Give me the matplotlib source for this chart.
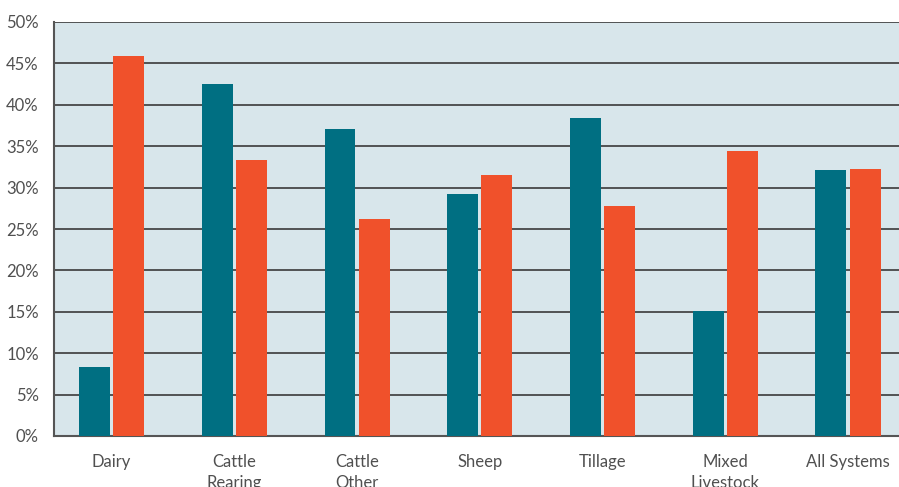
import matplotlib
matplotlib.use("Agg")
import matplotlib.pyplot as plt
import numpy as np

categories = ["Dairy", "Cattle\nRearing", "Cattle\nOther", "Sheep", "Tillage",
              "Mixed\nLivestock", "All Systems"]
series_a = [8.3, 42.5, 37.1, 29.2, 38.4, 15.1, 32.1]
series_b = [45.9, 33.3, 26.2, 31.5, 27.8, 34.4, 32.2]
y_ticks = [0, 5, 10, 15, 20, 25, 30, 35, 40, 45, 50]

teal = "#006F82"
orange = "#F0512B"
bg = "#D8E6EB"
text_col = "#505050"

plt.rcParams["font.family"] = ["Lato", "DejaVu Sans"]

fig = plt.figure(figsize=(8.99, 4.87), dpi=100)
ax = fig.add_axes([54 / 899, 51 / 487, 1 - 54 / 899 + 0.001, 414 / 487])
ax.set_facecolor(bg)

x = np.arange(len(categories))
w = 0.252
off = 0.139
ax.bar(x - off, series_a, width=w, color=teal, zorder=3)
ax.bar(x + off, series_b, width=w, color=orange, zorder=3)

ax.set_ylim(0, 50)
ax.set_xlim(-0.469, 6.423)
ax.set_yticks(y_ticks)
ax.set_yticklabels([f"{v}%" for v in y_ticks])
ax.set_xticks(x)
ax.set_xticklabels(categories)

ax.yaxis.grid(True, color="#3a3a3a", linewidth=1.2, zorder=1)
ax.set_axisbelow(True)

for side in ["top", "right"]:
    ax.spines[side].set_visible(False)
for side in ["left", "bottom"]:
    ax.spines[side].set_color("#555555")
    ax.spines[side].set_linewidth(1.5)

ax.tick_params(axis="both", length=0, labelsize=12, colors=text_col)
ax.tick_params(axis="y", pad=11)
ax.tick_params(axis="x", pad=13)
for lbl in ax.get_xticklabels():
    lbl.set_linespacing(1.35)

fig.savefig("out.png", dpi=100, facecolor="white")
